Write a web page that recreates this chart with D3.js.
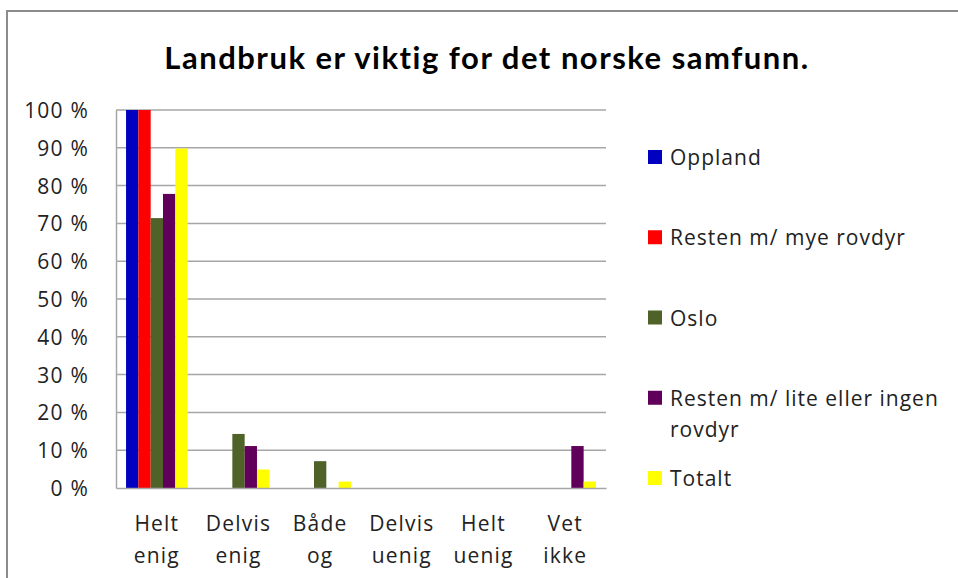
<!DOCTYPE html>
<html lang="no">
<head>
<meta charset="UTF-8">
<title>Landbruk er viktig for det norske samfunn.</title>
<script src="https://cdn.jsdelivr.net/npm/d3@7/dist/d3.min.js"></script>
<style>
    body { margin: 0; background: #fff; }
    svg { display: block; font-family: "Open Sans", Lato, sans-serif; }
    .grid line { stroke: #a6a6a6; stroke-width: 1.5px; }
    .axis path, .axis line { stroke: #a6a6a6; stroke-width: 1.5px; }
    .axis text { fill: #222; font-family: "Open Sans", sans-serif; font-size: 21px; letter-spacing: 1.2px; }
    .legend text { fill: #222; font-size: 21px; letter-spacing: 1px; }
</style>
</head>
<body>
<div class="chart"></div>
<script>
// answers on the x axis
var categories = ['Helt enig', 'Delvis enig', 'Både og', 'Delvis uenig', 'Helt uenig', 'Vet ikke'];

// one array per group, percent
var oppland     = [100, 0, 0, 0, 0, 0];
var restenMye   = [100, 0, 0, 0, 0, 0];
var oslo        = [71.4, 14.3, 7.1, 0, 0, 0];
var restenLite  = [77.8, 11.1, 0, 0, 0, 11.1];
var totalt      = [89.8, 4.9, 1.7, 0, 0, 1.7];

var seriesNames  = ['Oppland', 'Resten m/ mye rovdyr', 'Oslo', 'Resten m/ lite eller ingen rovdyr', 'Totalt'];
var seriesColors = ['#0000c0', '#ff0000', '#4f6228', '#60005a', '#ffff00'];
var yTicks = [0, 10, 20, 30, 40, 50, 60, 70, 80, 90, 100];

var series = [oppland, restenMye, oslo, restenLite, totalt].map(function(vals, i) {
    return { name: seriesNames[i], color: seriesColors[i], values: vals };
});

var width = 958, height = 578;
var plot = { left: 116, right: 606, top: 110, bottom: 488 };

var svg = d3.select('.chart').append('svg')
    .attr('width', width)
    .attr('height', height);

// chart area frame (only top and left are visible in the picture)
svg.append('path')
    .attr('d', 'M7,' + height + 'V11H' + width)
    .attr('fill', 'none')
    .attr('stroke', '#8c8c8c')
    .attr('stroke-width', 2);

svg.append('text')
    .attr('x', 487)
    .attr('y', 69)
    .attr('text-anchor', 'middle')
    .attr('font-family', 'Lato, sans-serif')
    .attr('font-size', '31px')
    .attr('font-weight', 'bold')
    .attr('letter-spacing', '1.5px')
    .attr('fill', '#000')
    .text('Landbruk er viktig for det norske samfunn.');

var x0 = d3.scaleBand()
    .domain(categories)
    .range([plot.left, plot.right])
    .paddingInner(0.246)
    .paddingOuter(0.123);

var x1 = d3.scaleBand()
    .domain(d3.range(series.length))
    .range([0, x0.bandwidth()]);

var y = d3.scaleLinear()
    .domain([0, 100])
    .range([plot.bottom, plot.top]);

// gridlines
svg.append('g')
    .attr('class', 'grid')
    .selectAll('line')
    .data(yTicks.slice(1))
    .enter().append('line')
    .attr('x1', plot.left)
    .attr('x2', plot.right)
    .attr('y1', function(d) { return y(d); })
    .attr('y2', function(d) { return y(d); });

// bars
var groups = svg.append('g').selectAll('g')
    .data(series)
    .enter().append('g')
    .attr('fill', function(d) { return d.color; });

groups.selectAll('rect')
    .data(function(s, si) {
        return s.values.map(function(v, ci) { return { si: si, cat: categories[ci], v: v }; });
    })
    .enter().append('rect')
    .filter(function(d) { return d.v > 0; })
    .attr('x', function(d) { return x0(d.cat) + x1(d.si); })
    .attr('width', x1.bandwidth())
    .attr('y', function(d) { return y(d.v); })
    .attr('height', function(d) { return y(0) - y(d.v); });

// axes
var yAxis = d3.axisLeft(y)
    .tickValues(yTicks)
    .tickSize(0)
    .tickPadding(27)
    .tickFormat(function(d) { return d + ' %'; });

svg.append('g')
    .attr('class', 'axis')
    .attr('transform', 'translate(' + plot.left + ',0)')
    .call(yAxis)
    .selectAll('text')
    .attr('dy', '0.36em');

var xAxis = d3.axisBottom(x0).tickSize(0).tickPadding(0);

var xg = svg.append('g')
    .attr('class', 'axis')
    .attr('transform', 'translate(0,' + plot.bottom + ')')
    .call(xAxis);

// one word per line under each group
xg.selectAll('text').each(function(d) {
    var t = d3.select(this).text(null).attr('y', 0).attr('dy', null);
    d.split(' ').forEach(function(w, i) {
        t.append('tspan')
            .attr('x', 0)
            .attr('y', 43 + i * 32)
            .text(w);
    });
});

// legend
var legendY = d3.scaleLinear().domain([0, series.length - 1]).range([165, 486]);

var legend = svg.append('g')
    .attr('class', 'legend')
    .selectAll('g')
    .data(series)
    .enter().append('g')
    .attr('transform', function(d, i) { return 'translate(648,' + legendY(i) + ')'; });

legend.append('rect')
    .attr('x', 0)
    .attr('y', -15)
    .attr('width', 14)
    .attr('height', 14)
    .attr('fill', function(d) { return d.color; });

legend.append('text')
    .attr('x', 22)
    .each(function(d) {
        // wrap long names at ~290px
        var t = d3.select(this);
        var words = d.name.split(' ');
        var line = [];
        var lineNo = 0;
        var span = t.append('tspan').attr('x', 22).attr('y', 0);
        words.forEach(function(w) {
            line.push(w);
            span.text(line.join(' '));
            if (span.node().getComputedTextLength() > 290 && line.length > 1) {
                line.pop();
                span.text(line.join(' '));
                line = [w];
                lineNo++;
                span = t.append('tspan').attr('x', 22).attr('y', lineNo * 31.5).text(w);
            }
        });
    });
</script>
</body>
</html>
